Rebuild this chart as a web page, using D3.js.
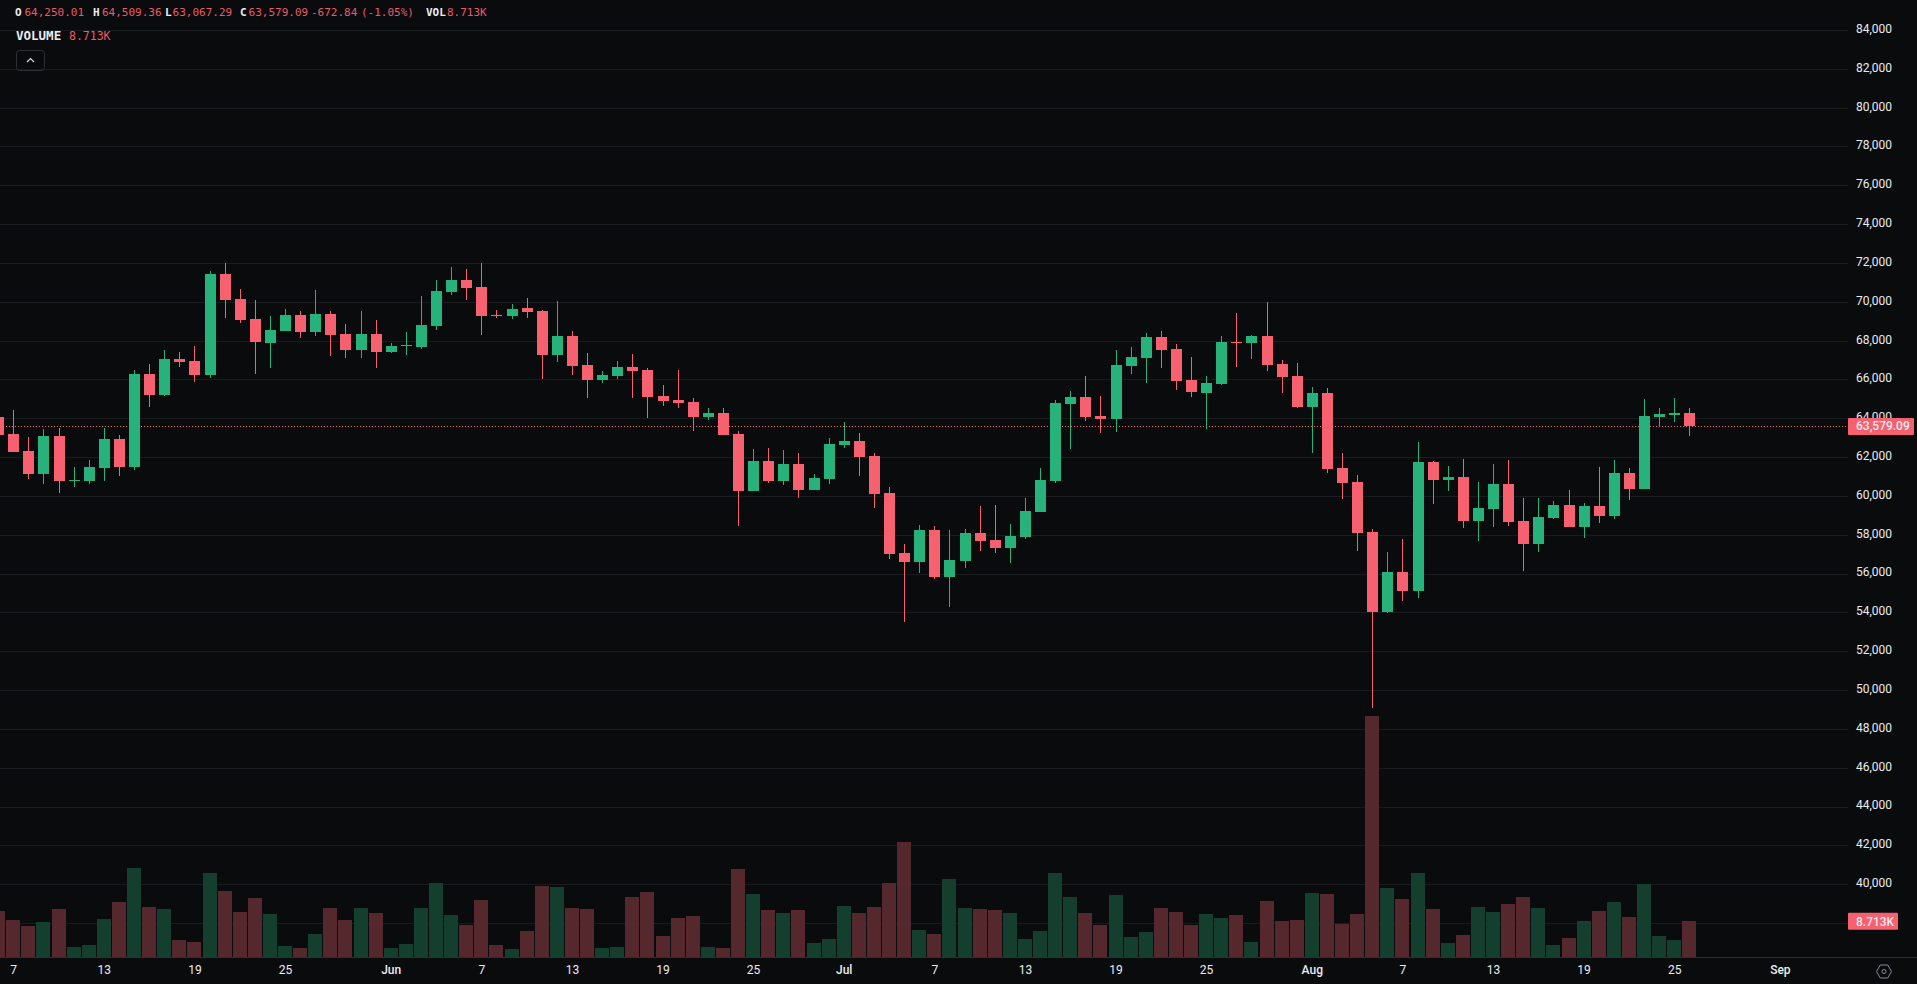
<!DOCTYPE html>
<html><head><meta charset="utf-8">
<script src="https://cdnjs.cloudflare.com/ajax/libs/d3/7.8.5/d3.min.js"></script>
<style>
html,body{margin:0;padding:0;background:#0a0b0d;overflow:hidden}
svg{display:block}
text{font-family:Roboto,sans-serif;font-size:12px;fill:#eaecef}
.mono{font-family:"DejaVu Sans Mono",monospace;font-size:11px}
</style></head><body>
<svg id="c" width="1917" height="984"></svg>
<script>
const firstDay = "2024-05-06";
const opens = [
64070,63191,62315,61131,63088,60787,60770,61440,62934,61491,
66282,65200,67054,66951,66230,71433,70145,69115,67878,68497,
69321,68445,69372,68342,67518,68342,67415,67741,67672,68754,
70505,71124,70763,69321,69269,69681,69527,67260,68239,66745,
65973,66179,66642,66488,65148,64942,64839,64067,64273,63191,
60255,61800,60770,61646,60306,60873,62624,62830,62058,60152,
57061,56598,58246,55825,56649,58092,57731,57319,57886,59173,
60770,64736,65097,64118,63964,66694,67106,68188,67569,65973,
65303,65767,67930,67878,68239,66798,66180,64583,65304,61441,
60720,58144,54024,56084,55105,61750,60823,60978,58711,59329,
60617,58711,57526,58866,59535,58402,59484,58969,61184,60359,
64068,64171,64250.01];
const closes = [
63140,62264,61131,63088,60770,60822,61491,62934,61491,66282,
65200,67054,66900,66230,71433,70093,69063,67930,68548,69321,
68445,69372,68291,67518,68342,67415,67724,67775,68806,70557,
71124,70712,69269,69269,69630,69475,67260,68239,66694,65973,
66230,66642,66436,65097,64891,64788,64067,64273,63140,60255,
61800,60770,61646,60306,60925,62676,62830,62006,60100,57010,
56598,58246,55825,56701,58092,57679,57319,57937,59225,60822,
64788,65097,64067,63964,66745,67157,68188,67518,65921,65354,
65818,67930,67878,68239,66745,66129,64583,65304,61390,60668,
58093,54024,56084,55105,61750,60823,60978,58711,59381,60617,
58660,57526,58917,59535,58402,59484,58969,61184,60359,64120,
64223,64274,63579.09];
const highs = [
64450,64427,63037,63449,63500,61491,61852,63500,63140,66488,
66797,67518,67415,67724,71587,71999,70660,70093,69269,69630,
69527,70608,69527,68857,69527,69063,67878,68445,70299,71124,
71793,71690,71999,69578,69887,70196,69578,70042,68497,67363,
66436,66951,67312,66591,65715,66488,65045,64530,64530,63346,
62418,62470,62367,62212,61131,62985,63809,63243,62212,60461,
57525,58504,58452,58246,58298,59482,59534,58555,59894,61440,
64942,65406,66179,65148,67518,67672,68394,68497,67827,67157,
66179,68239,69424,68291,69990,67004,66850,65613,65562,62214,
61081,58299,57114,57784,62780,61802,61544,61905,60720,61647,
61853,59896,59896,59741,60308,59638,61493,61853,61441,64995,
64532,65047,64509.36];
const lows = [
63100,62264,60873,60616,60152,60461,60616,60770,61028,61337,
64582,65148,66642,65870,66076,69166,68909,66282,66591,68497,
68136,68239,67209,67106,67106,66591,67363,67260,67569,68548,
70351,70093,68291,69166,69115,69166,66024,66900,66230,65045,
65818,66024,65045,64015,64633,64530,63346,63912,63140,58452,
60255,60667,60564,59894,60306,60616,62470,61028,59379,56752,
53507,56031,55722,54280,56289,57164,57061,56546,57783,59173,
60667,62418,63861,63243,63294,66282,65818,66591,65457,65097,
63449,65715,66642,67054,66436,65304,64532,62214,61184,59844,
57166,49079,53972,54590,54745,59587,60256,58350,57681,58402,
58454,56136,57114,58814,58402,57835,58608,58814,59793,60359,
63605,63811,63067.29];
const volumes = [
11.12,8.96,7.52,8.48,11.6,2.48,2.96,9.2,13.28,21.44,
12.08,11.6,4.16,3.68,20.24,15.92,10.88,14.24,10.4,2.72,
2.24,5.6,11.84,8.96,11.84,10.64,2.24,3.2,11.84,17.84,
10.16,7.76,13.76,2.96,2,6.32,17.12,16.88,11.84,11.6,
2.24,2.48,14.48,15.68,5.12,9.44,9.92,2.48,2.24,21.2,
15.2,11.36,10.64,11.36,3.44,4.4,12.32,10.64,12.08,17.84,
27.68,6.56,5.6,18.8,11.84,11.6,11.36,10.64,4.4,6.32,
20.24,14.48,10.64,7.76,14.96,4.88,6.08,11.84,10.88,7.76,
10.4,9.44,10.16,3.68,13.52,8.72,8.96,15.44,15.2,8,
10.4,57.76,16.64,14,20.24,11.6,3.44,5.36,12.08,10.88,
12.8,14.48,11.84,2.96,4.64,8.72,11.12,13.28,9.68,17.6,
5.12,4.16,8.713];
const gridTicks = [84000,82000,80000,78000,76000,74000,72000,70000,68000,66000,64000,62000,60000,58000,56000,54000,52000,50000,48000,46000,44000,42000,40000,38000];
const priceTicks = gridTicks.slice(0,-1);
const dateTicks = ["2024-05-07","2024-05-13","2024-05-19","2024-05-25","2024-06-01","2024-06-07","2024-06-13","2024-06-19","2024-06-25","2024-07-01","2024-07-07","2024-07-13","2024-07-19","2024-07-25","2024-08-01","2024-08-07","2024-08-13","2024-08-19","2024-08-25","2024-09-01"];
const lastPrice = 63579.09, lastVolume = "8.713K";
const headerParts = [["O","l"],["64,250.01","r"],["H","l"],["64,509.36","r"],["L","l"],["63,067.29","r"],["C","l"],["63,579.09","r"],["-672.84","r"],["(-1.05%)","r"],["VOL","l"],["8.713K","r"]];
const headerX = [15,24.5,93,102,165,172.6,240,248.6,311,361,426,447];

const RED="#f6606f", GREEN="#26b27a", VRED="#54282d", VGREEN="#143f2e", GRID="#1a1b1f";
const parse = d3.utcParse("%Y-%m-%d");
const start = parse(firstDay);
const dates = opens.map((_,i)=>d3.utcDay.offset(start,i));
const axisX = 1848, base = 957;
const x = d3.scaleUtc().domain([parse("2024-05-07"),parse("2024-09-01")]).range([13.2,1779.9]);
const y = d3.scaleLinear().domain([84000,38000]).range([30,923]);
const v = d3.scaleLinear().domain([0,60]).range([base,base-250]);
const svg = d3.select("#c");
svg.append("rect").attr("width",1917).attr("height",984).attr("fill","#0a0b0d");

// grid
svg.append("g").selectAll("line").data(gridTicks).join("line")
  .attr("x1",0).attr("x2",axisX).attr("y1",d=>Math.round(y(d))+.5).attr("y2",d=>Math.round(y(d))+.5)
  .attr("stroke",GRID);

// volume
const isUp = i=>closes[i]>=opens[i];
svg.append("g").attr("shape-rendering","crispEdges").selectAll("rect").data(volumes).join("rect")
  .attr("x",(d,i)=>x(dates[i])-7).attr("width",14)
  .attr("y",d=>v(d)).attr("height",d=>base-v(d))
  .attr("fill",(d,i)=>isUp(i)?VGREEN:VRED);

// price line
svg.append("line").attr("x1",0).attr("x2",axisX).attr("y1",Math.round(y(lastPrice))+.5).attr("y2",Math.round(y(lastPrice))+.5)
  .attr("stroke",RED).attr("stroke-dasharray","1 2");

// candles
const cg = svg.append("g").attr("shape-rendering","crispEdges");
const c = cg.selectAll("g").data(opens).join("g");
c.append("rect").attr("x",(d,i)=>Math.round(x(dates[i]))-.5).attr("width",1)
  .attr("y",(d,i)=>y(highs[i])).attr("height",(d,i)=>y(lows[i])-y(highs[i]))
  .attr("fill",(d,i)=>isUp(i)?GREEN:RED);
c.append("rect").attr("x",(d,i)=>Math.round(x(dates[i]))-5.5).attr("width",11)
  .attr("y",(d,i)=>y(Math.max(opens[i],closes[i])))
  .attr("height",(d,i)=>Math.max(1,Math.abs(y(opens[i])-y(closes[i]))))
  .attr("fill",(d,i)=>isUp(i)?GREEN:RED);

// axes
const yAxis = d3.axisRight(y).tickValues(priceTicks).tickFormat(d3.format(",")).tickSize(0).tickPadding(8);
const ya = svg.append("g").attr("transform",`translate(${axisX},0)`).call(yAxis);
ya.select(".domain").remove();
ya.selectAll("text").attr("dy","0.2em").style("font-family","Roboto,sans-serif").style("font-size","12px").attr("fill","#eaecef");

const fmt = d=>d.getUTCDate()===1?d3.utcFormat("%b")(d):d3.utcFormat("%-d")(d);
const xAxis = d3.axisBottom(x).tickValues(dateTicks.map(parse)).tickFormat(fmt).tickSize(0).tickPadding(8);
const xa = svg.append("g").attr("transform",`translate(0,${base})`).call(xAxis);
xa.select(".domain").remove();
xa.selectAll("text").style("font-family","Roboto,sans-serif").style("font-size","12px").attr("fill","#eaecef")
  .style("font-weight",(d)=>d.getUTCDate()===1?500:400);
svg.append("line").attr("x1",0).attr("x2",1917).attr("y1",base+.5).attr("y2",base+.5).attr("stroke","#2b2f36");

// tags
svg.append("rect").attr("x",axisX).attr("y",y(lastPrice)-8.5).attr("width",66).attr("height",17).attr("rx",1).attr("fill",RED);
svg.append("text").attr("x",1856).attr("y",y(lastPrice)+4).style("font-weight",500).text(d3.format(",.2f")(lastPrice));
svg.append("rect").attr("x",axisX).attr("y",v(8.713)-8).attr("width",50).attr("height",17).attr("rx",1).attr("fill",RED);
svg.append("text").attr("x",1856).attr("y",v(8.713)+5).style("font-weight",500).text(lastVolume);

// header
svg.append("g").selectAll("text").data(headerParts).join("text").attr("class","mono")
  .attr("x",(d,i)=>headerX[i]).attr("y",16)
  .style("fill",d=>d[1]==="l"?"#eaecef":"#ea5a68").style("font-weight",d=>d[1]==="l"?700:400)
  .text(d=>d[0]);
svg.append("text").attr("class","mono").attr("x",16).attr("y",40).style("font-weight",700).style("font-size","12.5px").text("VOLUME");
svg.append("text").attr("class","mono").attr("x",69).attr("y",40).style("fill","#ea5a68").style("font-size","11.5px").text(lastVolume);
svg.append("rect").attr("x",16.5).attr("y",50.5).attr("width",28).attr("height",20).attr("rx",3).attr("fill","none").attr("stroke","#2b2f36");
svg.append("path").attr("d","M27 62l3.5-3.5l3.5 3.5").attr("fill","none").attr("stroke","#d5d7da").attr("stroke-width",1.2);

// settings icon
const hx=1884, hy=971.5, hr=7.5;
svg.append("path").attr("d",d3.line()(d3.range(6).map(k=>[hx+hr*Math.cos(Math.PI/3*k),hy+hr*Math.sin(Math.PI/3*k)]))+"Z")
  .attr("fill","none").attr("stroke","#848e9c");
svg.append("circle").attr("cx",hx).attr("cy",hy).attr("r",2).attr("fill","none").attr("stroke","#848e9c");
</script>
</body></html>
